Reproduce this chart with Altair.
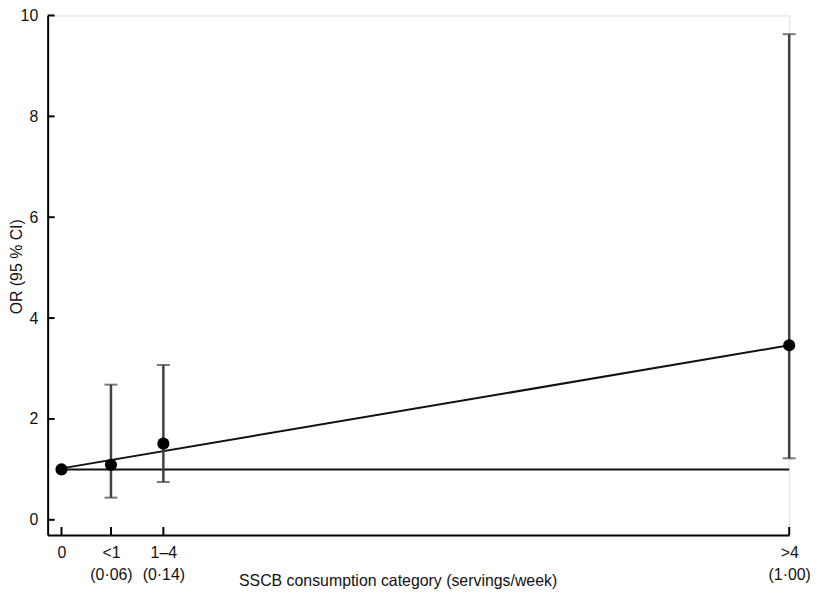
import altair as alt
import pandas as pd

# ---- data ----
cat_x = [0.0, 0.068, 0.14, 1.0]
tick_line1 = ["0", "<1", "1–4", ">4"]
tick_line2 = ["", "(0·06)", "(0·14)", "(1·00)"]
or_values = [1.0, 1.09, 1.51, 3.46]
ci_x = [0.068, 0.14, 1.0]
ci_low = [0.44, 0.75, 1.22]
ci_high = [2.68, 3.07, 9.63]
trend_x = [0.0, 1.0]
trend_y = [1.02, 3.46]
ref_x = [0.0, 1.0]
ref_y = [1.0, 1.0]
y_ticks = [0, 2, 4, 6, 8, 10]

W, H = 748, 524
FONT = "Liberation Sans"
FS = 16

pts = pd.DataFrame({"x": cat_x, "y": or_values})
ci = pd.DataFrame({"x": ci_x, "lo": ci_low, "hi": ci_high})
trend = pd.DataFrame({"x": trend_x, "y": trend_y})
ref = pd.DataFrame({"x": ref_x, "y": ref_y})
yt = pd.DataFrame({"v": y_ticks})
xt = pd.DataFrame({"v": cat_x})

# label expression built from the label lists
parts = []
for v, a, b in zip(cat_x, tick_line1, tick_line2):
    arr = "['%s']" % a if not b else "['%s','%s']" % (a, b)
    parts.append("abs(datum.value - %r) < 0.001 ? %s" % (v, arr))
label_expr = " : ".join(parts) + " : ''"

xscale = alt.Scale(domain=[-0.019, 1.0], nice=False, zero=False)
yscale = alt.Scale(domain=[-0.3, 10], nice=False, zero=False)

xaxis = alt.Axis(
    values=cat_x, labelExpr=label_expr, ticks=False, grid=False,
    domainColor="#000", domainWidth=2, labelFont=FONT, labelFontSize=FS,
    labelColor="#111", labelPadding=10, labelLineHeight=22, labelBaseline="top",
    labelFlush=False, labelOverlap=False,
    title="SSCB consumption category (servings/week)", titleFont=FONT,
    titleFontSize=FS, titleFontWeight="normal", titleColor="#111",
    titleX=353, titleY=51, titleAlign="center", titleBaseline="alphabetic",
)
yaxis = alt.Axis(
    values=y_ticks, ticks=False, grid=False, domainColor="#000", domainWidth=2,
    labelFont=FONT, labelFontSize=FS, labelColor="#111", labelPadding=10,
    title="OR (95 % CI)", titleFont=FONT, titleFontSize=FS,
    titleFontWeight="normal", titleColor="#111", titleAngle=-90,
    titleX=-26, titleY=253, titleAlign="center", titleBaseline="alphabetic",
)

base_x = alt.X("x:Q", scale=xscale, axis=xaxis)
base_y = alt.Y("y:Q", scale=yscale, axis=yaxis)

ref_line = alt.Chart(ref).mark_line(color="#111", strokeWidth=2).encode(
    x=base_x, y=base_y)
trend_line = alt.Chart(trend).mark_line(color="#111", strokeWidth=2).encode(
    x="x:Q", y="y:Q")
err = alt.Chart(ci).mark_rule(color="#404040", strokeWidth=2.5).encode(
    x="x:Q", y=alt.Y("lo:Q"), y2="hi:Q")
cap_lo = alt.Chart(ci).mark_tick(color="#404040", orient="horizontal",
                                 size=13, thickness=2).encode(
    x="x:Q", y=alt.Y("lo:Q"))
cap_hi = alt.Chart(ci).mark_tick(color="#404040", orient="horizontal",
                                 size=13, thickness=2).encode(
    x="x:Q", y=alt.Y("hi:Q"))
points = alt.Chart(pts).mark_point(filled=True, color="#000", opacity=1,
                                   size=150).encode(x="x:Q", y="y:Q")
ytick_marks = alt.Chart(yt).mark_rule(color="#000", strokeWidth=2).encode(
    y=alt.Y("v:Q"), x=alt.value(0), x2=alt.value(7))
xtick_marks = alt.Chart(xt).mark_rule(color="#000", strokeWidth=2).encode(
    x=alt.X("v:Q"), y=alt.value(H), y2=alt.value(H - 8))

chart = alt.layer(
    ref_line, trend_line, err, cap_lo, cap_hi, points, ytick_marks, xtick_marks
).properties(
    width=W, height=H,
    autosize=alt.AutoSizeParams(type="none"),
    padding={"left": 40, "top": 5, "right": 22, "bottom": 55},
).configure_view(stroke=None).configure(background="white")

chart.save("out.html", embed_options={"renderer": "svg", "actions": False})
